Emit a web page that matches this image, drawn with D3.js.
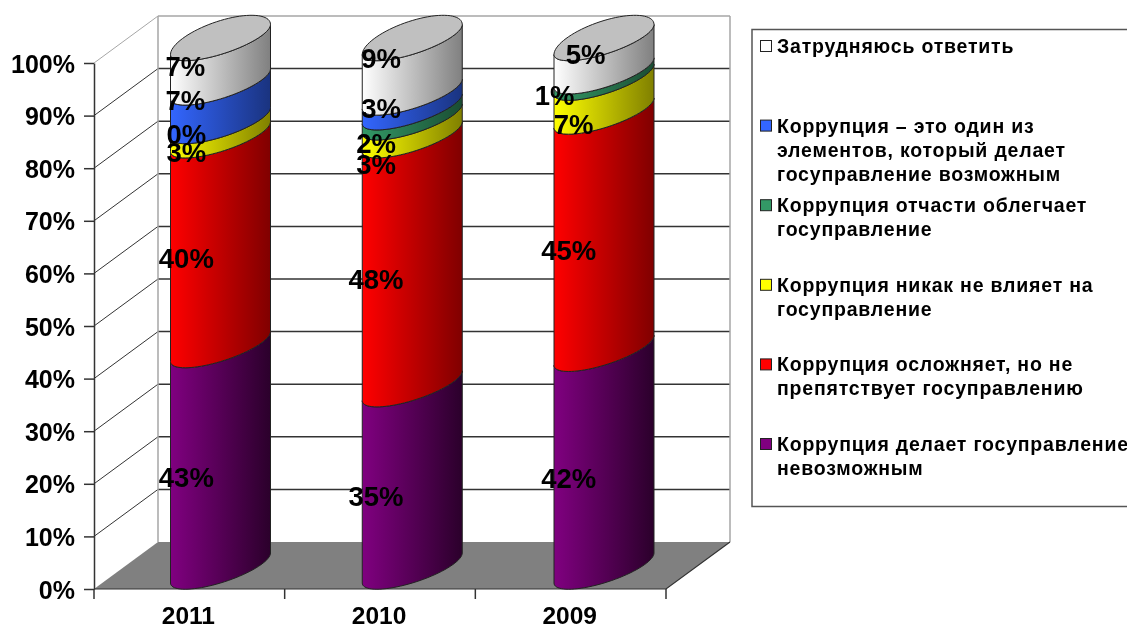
<!DOCTYPE html>
<html>
<head>
<meta charset="utf-8">
<script src="https://cdnjs.cloudflare.com/ajax/libs/d3/7.8.5/d3.min.js"></script>
<style>
html, body { margin: 0; padding: 0; background: #fff; overflow: hidden; }
svg { display: block; filter: blur(0.4px); }
text { font-family: "Liberation Sans", Arial, sans-serif; font-weight: bold; fill: #000; }
</style>
</head>
<body>
<div id="chart"></div>
<script>
var years = ["2011", "2010", "2009"];
var ticks = [0, 10, 20, 30, 40, 50, 60, 70, 80, 90, 100];
var seriesNames = ["purple", "red", "yellow", "green", "blue", "white"];

// percentages printed on the chart, bottom segment first (null = no label)
var shown2011 = [43, 40, 3, 0, 7, 7];
var shown2010 = [35, 48, 3, 2, 3, 9];
var shown2009 = [42, 45, 7, 1, null, 5];

// segment heights, they differ a bit from the printed numbers
var height2011 = [41.9, 39.7, 2.7, 0, 7.3, 8.4];
var height2010 = [34.5, 47.1, 3.4, 1.9, 2.8, 10.3];
var height2009 = [41.2, 44.9, 6.4, 1.2, 0, 6.3];

var legendOrder = ["white", "blue", "green", "yellow", "red", "purple"];
var legendLines = [
    ["Затрудняюсь ответить"],
    ["Коррупция – это один из", "элементов, который делает", "госуправление возможным"],
    ["Коррупция отчасти облегчает", "госуправление"],
    ["Коррупция никак не влияет на", "госуправление"],
    ["Коррупция осложняет, но не", "препятствует госуправлению"],
    ["Коррупция делает госуправление", "невозможным"]
];

var shown = [shown2011, shown2010, shown2009];
var heights = [height2011, height2010, height2009];

// label nudges, Excel moved these by hand
var nudgeX = [[-3, -3, -3, -3, -4, -4], [-4, -4, -4, -4, 1, 1], [-2, -2, 3, -16, 0, 15]];
var nudgeY = [[1, 0, 8, -3, -18, -15], [-1, 0, 20, 12, -10, -29], [0, 0, 11, 3, 0, -22]];

var colorLeft = {purple: "#800080", red: "#ff0000", yellow: "#ffff00", green: "#339966", blue: "#3366ff", white: "#ffffff"};
var colorRight = {purple: "#2b002b", red: "#800000", yellow: "#808000", green: "#1a4d33", blue: "#1a337f", white: "#808080"};

function init(){
    var w = 1127;
    var h = 630;
    var depthX = 64;
    var depthY = 47;
    var r = 50;
    var skewA = -15;
    var skewFront = 15;
    var skewBack = 19;

    var svg = d3.select("#chart")
                .append("svg")
                .attr("width", w)
                .attr("height", h);

    var defs = svg.append("defs");
    seriesNames.forEach(function(s){
        var g = defs.append("linearGradient").attr("id", "grad-" + s);
        g.append("stop").attr("offset", "0%").attr("stop-color", colorLeft[s]);
        g.append("stop").attr("offset", "100%").attr("stop-color", colorRight[s]);
    });

    var x = d3.scaleBand().domain(years).range([94, 666]);
    var y = d3.scaleLinear().domain([0, 100]).range([589, 63]);
    var xCyl = d3.scalePoint().domain(years).range([220.5, 604]);
    var yCyl = d3.scaleLinear().domain([0, 100]).range([568, 39.5]);

    // floor
    svg.append("path")
        .attr("d", d3.line()([[x.range()[0], y(0)], [x.range()[1], y(0)],
                              [x.range()[1] + depthX, y(0) - depthY], [x.range()[0] + depthX, y(0) - depthY]]) + "Z")
        .attr("fill", "#808080");

    // walls
    svg.append("g").selectAll("line.back")
        .data(ticks.slice(1))
        .enter()
        .append("line")
        .attr("x1", x.range()[0] + depthX)
        .attr("x2", x.range()[1] + depthX)
        .attr("y1", function(d){ return y(d) - depthY; })
        .attr("y2", function(d){ return y(d) - depthY; })
        .attr("stroke", function(d){ return d == 100 ? "#a6a6a6" : "#333"; })
        .attr("stroke-width", 1.5);

    svg.append("g").selectAll("line.side")
        .data(ticks.slice(1))
        .enter()
        .append("line")
        .attr("x1", x.range()[0])
        .attr("x2", x.range()[0] + depthX)
        .attr("y1", function(d){ return y(d); })
        .attr("y2", function(d){ return y(d) - depthY; })
        .attr("stroke", function(d){ return d == 100 ? "#a6a6a6" : "#333"; })
        .attr("stroke-width", 1);

    [x.range()[0] + depthX, x.range()[1] + depthX].forEach(function(px){
        svg.append("line")
            .attr("x1", px).attr("x2", px)
            .attr("y1", y(100) - depthY).attr("y2", y(0) - depthY)
            .attr("stroke", "#a6a6a6")
            .attr("stroke-width", 1.5);
    });

    // right and front edge of the floor
    svg.append("path")
        .attr("d", d3.line()([[x.range()[0], y(0)], [x.range()[1], y(0)], [x.range()[1] + depthX, y(0) - depthY]]))
        .attr("fill", "none")
        .attr("stroke", "#333")
        .attr("stroke-width", 1.2);

    // y axis
    var yAxis = svg.append("g")
        .attr("transform", "translate(" + x.range()[0] + ",0)")
        .call(d3.axisLeft(y).tickValues(ticks).tickSize(10).tickSizeOuter(0).tickPadding(9)
                .tickFormat(function(d){ return d + "%"; }));
    yAxis.selectAll("line, path").attr("stroke", "#333").attr("stroke-width", 1.5);
    yAxis.selectAll("text").attr("font-size", 25).attr("fill", "#000")
        .attr("font-family", "Liberation Sans").attr("font-weight", "bold")
        .attr("dy", "0.36em");

    // x axis, ticks sit between the categories
    var xAxis = svg.append("g")
        .attr("transform", "translate(0," + y(0) + ")")
        .call(d3.axisBottom(x).tickSize(0).tickPadding(18));
    xAxis.select("path").remove();
    xAxis.selectAll("text").attr("font-size", 24.5).attr("fill", "#000")
        .attr("font-family", "Liberation Sans").attr("font-weight", "bold")
        .attr("dx", -1);

    svg.append("g").selectAll("line")
        .data(years.map(function(d){ return x(d); }).concat([x.range()[1]]))
        .enter()
        .append("line")
        .attr("x1", function(d){ return d; })
        .attr("x2", function(d){ return d; })
        .attr("y1", y(0))
        .attr("y2", y(0) + 10)
        .attr("stroke", "#333")
        .attr("stroke-width", 1.5);

    // oblique rim of the cylinder, t in radians, front half and back half bulge differently
    function rim(cx, cy, t){
        var b = Math.sin(t) >= 0 ? skewFront : skewBack;
        return [cx + r * Math.cos(t), cy + skewA * Math.cos(t) + b * Math.sin(t)];
    }
    var line = d3.line();

    function segmentPath(cx, cy0, cy1){
        var pts = d3.range(0, 41).map(function(i){ return rim(cx, cy1, Math.PI - Math.PI * i / 40); });
        var low = d3.range(0, 41).map(function(i){ return rim(cx, cy0, Math.PI * i / 40); });
        return line(pts.concat(low)) + "Z";
    }

    years.forEach(function(year, yi){
        var cum = 0;
        var cx = xCyl(year);
        heights[yi].forEach(function(v, si){
            var s = seriesNames[si];
            if (v > 0) {
                svg.append("path")
                    .attr("d", segmentPath(cx, yCyl(cum), yCyl(cum + v)))
                    .attr("fill", "url(#grad-" + s + ")")
                    .attr("stroke", "#222")
                    .attr("stroke-width", 1);
            }
            cum += v;
        });
        var top = d3.range(0, 81).map(function(i){ return rim(cx, yCyl(cum), 2 * Math.PI * i / 80); });
        svg.append("path")
            .attr("d", line(top) + "Z")
            .attr("fill", "#c0c0c0")
            .attr("stroke", "#222")
            .attr("stroke-width", 1);
    });

    // data labels go on top of all cylinders
    years.forEach(function(year, yi){
        var cum = 0;
        shown[yi].forEach(function(v, si){
            if (v === null) return;
            svg.append("text")
                .text(v + "%")
                .attr("x", x(year) + x.bandwidth() / 2 + nudgeX[yi][si])
                .attr("y", y(cum + v / 2) + nudgeY[yi][si])
                .attr("dy", "0.36em")
                .attr("text-anchor", "middle")
                .attr("font-size", 27.5);
            cum += v;
        });
    });

    // legend, runs off the right edge of the picture like the original
    svg.append("rect")
        .attr("x", 752)
        .attr("y", 29.5)
        .attr("width", 420)
        .attr("height", 477)
        .attr("fill", "#fff")
        .attr("stroke", "#555")
        .attr("stroke-width", 1.5);

    var yLegend = d3.scalePoint().domain(legendOrder).range([46, 444]);
    legendOrder.forEach(function(s, i){
        svg.append("rect")
            .attr("x", 760.5)
            .attr("y", yLegend(s) - 5.5)
            .attr("width", 11)
            .attr("height", 11)
            .attr("fill", colorLeft[s])
            .attr("stroke", "#222")
            .attr("stroke-width", 1);
        legendLines[i].forEach(function(t, j){
            svg.append("text")
                .text(t)
                .attr("x", 777)
                .attr("y", yLegend(s) + j * 24)
                .attr("dy", "0.36em")
                .attr("font-size", 19.5)
                .attr("letter-spacing", 0.8);
        });
    });
}
window.onload = init;
</script>
</body>
</html>
